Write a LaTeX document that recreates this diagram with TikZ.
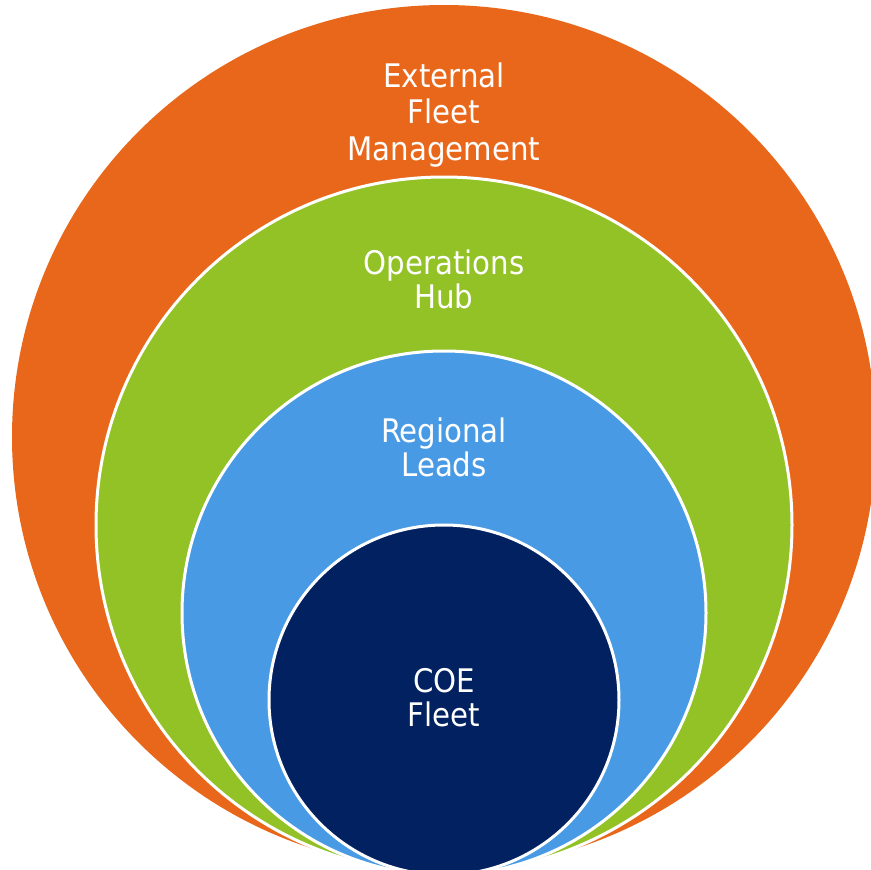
\documentclass[tikz,border=0pt]{standalone}
\usepackage{fontspec}
\setmainfont{DejaVu Sans Condensed}
\definecolor{extorange}{RGB}{232,103,26}
\definecolor{opsgreen}{RGB}{146,194,38}
\definecolor{regblue}{RGB}{73,154,228}
\definecolor{coenavy}{RGB}{2,33,96}
\tikzset{
  ring/.style={circle, inner sep=0pt, draw=white, line width=3pt},
  lbl/.style={text=white, font=\fontsize{32.5}{34}\selectfont, align=center, inner sep=0pt, anchor=base}
}
\begin{document}
\begin{tikzpicture}[x=1pt,y=-1pt]
\useasboundingbox (0,0) rectangle (871,870);
\clip (0,0) rectangle (871,870);
\node[ring, fill=extorange, draw=none, minimum size=864pt] (outer) at (444,437) {};
\node[ring, fill=opsgreen, minimum size=696pt] (ops) at (444,525) {};
\node[ring, fill=regblue, minimum size=524pt] (reg) at (444,613) {};
\node[ring, fill=coenavy, minimum size=350pt] (coe) at (444,700) {};
\node[lbl, font=\fontsize{32.5}{36.5}\selectfont] (t1) at (444,160) {External\\Fleet\\Management};
\node[lbl] (t2) at (444,308) {Operations\\Hub};
\node[lbl] (t3) at (444,476) {Regional\\Leads};
\node[lbl] (t4) at (444,726) {COE\\Fleet};
\end{tikzpicture}
\end{document}
